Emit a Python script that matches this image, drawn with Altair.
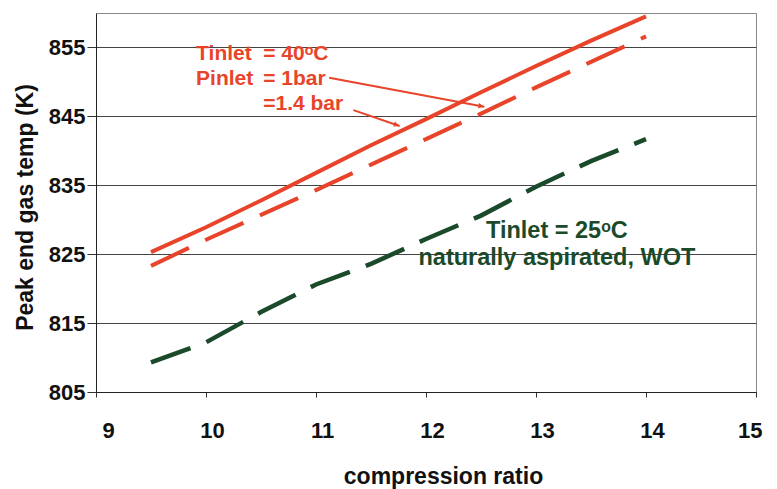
import altair as alt
import pandas as pd

# compression ratio sampled along each curve
ratio = [9.5, 10.0, 10.5, 11.0, 11.5, 12.0, 12.5, 13.0, 13.5, 14.0]

# peak end-gas temperature (K)
t40_1bar = [825.3, 828.9, 832.8, 836.8, 840.8, 844.6, 848.5, 852.3, 856.0, 859.5]
t40_14bar = [823.3, 827.1, 830.7, 834.3, 838.0, 841.7, 845.4, 849.2, 852.9, 856.6]
t25_na = [809.3, 812.2, 816.6, 820.6, 823.6, 827.2, 830.6, 834.8, 838.5, 841.7]

y_ticks = [805, 815, 825, 835, 845, 855]
x_ticks = [9, 10, 11, 12, 13, 14, 15]

RED = "#E8442A"
GREEN = "#1B4A2A"
FONT = "Liberation Sans"

x_scale = alt.Scale(domain=[9, 15], nice=False)
y_scale = alt.Scale(domain=[805, 860], nice=False, zero=False)

x_axis = alt.Axis(
    values=x_ticks, format="d", title="compression ratio", grid=False,
    labelFont=FONT, labelFontSize=22, labelFontWeight="bold", labelColor="#111",
    labelPadding=23, labelBaseline="top", labelOffset=6,
    tickSize=5, tickColor="#333", domainColor="#222",
    titleFont=FONT, titleFontSize=23, titleFontWeight="bold", titleColor="#111",
    titleX=347, titleY=91, titleBaseline="alphabetic", titleAlign="center",
)
y_axis = alt.Axis(
    values=y_ticks, format="d", title="Peak end gas temp (K)", grid=True,
    gridColor="#444", gridWidth=1,
    labelFont=FONT, labelFontSize=22, labelFontWeight="bold", labelColor="#111",
    labelPadding=2, tickSize=9, tickColor="#333", domainColor="#222",
    titleFont=FONT, titleFontSize=23, titleFontWeight="bold", titleColor="#111",
    titleAngle=270, titleX=-64, titleY=194, titleAlign="center",
    titleBaseline="alphabetic",
)

df = pd.DataFrame({"ratio": ratio, "a": t40_1bar, "b": t40_14bar, "c": t25_na})

base = alt.Chart(df)
line_1bar = base.mark_line(color=RED, strokeWidth=4).encode(
    x=alt.X("ratio:Q", scale=x_scale, axis=x_axis),
    y=alt.Y("a:Q", scale=y_scale, axis=y_axis),
)
line_14bar = base.mark_line(color=RED, strokeWidth=4, strokeDash=[42, 18]).encode(
    x=alt.X("ratio:Q", scale=x_scale), y=alt.Y("b:Q", scale=y_scale)
)
line_na = base.mark_line(color=GREEN, strokeWidth=4.5, strokeDash=[42, 17]).encode(
    x=alt.X("ratio:Q", scale=x_scale), y=alt.Y("c:Q", scale=y_scale)
)

# annotation arrows (start -> tip) with heading angle in degrees
arrows = pd.DataFrame({
    "x0": [11.12, 11.34], "y0": [850.6, 845.9],
    "x1": [12.53, 11.76], "y1": [846.4, 843.6],
    "ang": [10.6, 18.8],
})
arrow_shafts = alt.Chart(arrows).mark_rule(color=RED, strokeWidth=2).encode(
    x=alt.X("x0:Q", scale=x_scale), y=alt.Y("y0:Q", scale=y_scale),
    x2="x1:Q", y2="y1:Q",
)
arrow_heads = alt.Chart(arrows).mark_point(
    shape="M0,0 L-1,-0.45 L-1,0.45 Z", filled=True, color=RED, opacity=1, size=140
).encode(
    x=alt.X("x1:Q", scale=x_scale), y=alt.Y("y1:Q", scale=y_scale),
    angle=alt.Angle("ang:Q", scale=None),
)

# red annotation: name column and value column
red_names = pd.DataFrame({"x": [9.91, 9.91], "y": [853.2, 849.55],
                          "t": ["Tinlet", "Pinlet"]})
red_vals = pd.DataFrame({"x": [10.52, 10.52, 10.52], "y": [853.2, 849.55, 845.92],
                         "t": ["= 40ᵒC", "= 1bar", "=1.4 bar"]})
red_text_kw = dict(font=FONT, fontSize=21, fontWeight="bold", color=RED,
                   align="left", baseline="alphabetic")
red_names_t = alt.Chart(red_names).mark_text(**red_text_kw).encode(
    x=alt.X("x:Q", scale=x_scale), y=alt.Y("y:Q", scale=y_scale), text="t:N")
red_vals_t = alt.Chart(red_vals).mark_text(**red_text_kw).encode(
    x=alt.X("x:Q", scale=x_scale), y=alt.Y("y:Q", scale=y_scale), text="t:N")

green_lbl = pd.DataFrame({"x": [13.19, 13.19], "y": [827.35, 823.4],
                          "t": ["Tinlet = 25ᵒC", "naturally aspirated, WOT"]})
green_t = alt.Chart(green_lbl).mark_text(
    font=FONT, fontSize=23.5, fontWeight="bold", color=GREEN,
    align="center", baseline="alphabetic"
).encode(x=alt.X("x:Q", scale=x_scale), y=alt.Y("y:Q", scale=y_scale), text="t:N")

chart = alt.layer(
    line_1bar, line_14bar, line_na, arrow_shafts, arrow_heads,
    red_names_t, red_vals_t, green_t,
).properties(
    width=660, height=379,
    autosize=alt.AutoSizeParams(type="none"),
    padding={"left": 96, "top": 13, "right": 21, "bottom": 97},
    background="white",
).configure_view(stroke="#888", strokeWidth=1)

chart.save("out.html", embed_options={"renderer": "svg", "actions": False})
